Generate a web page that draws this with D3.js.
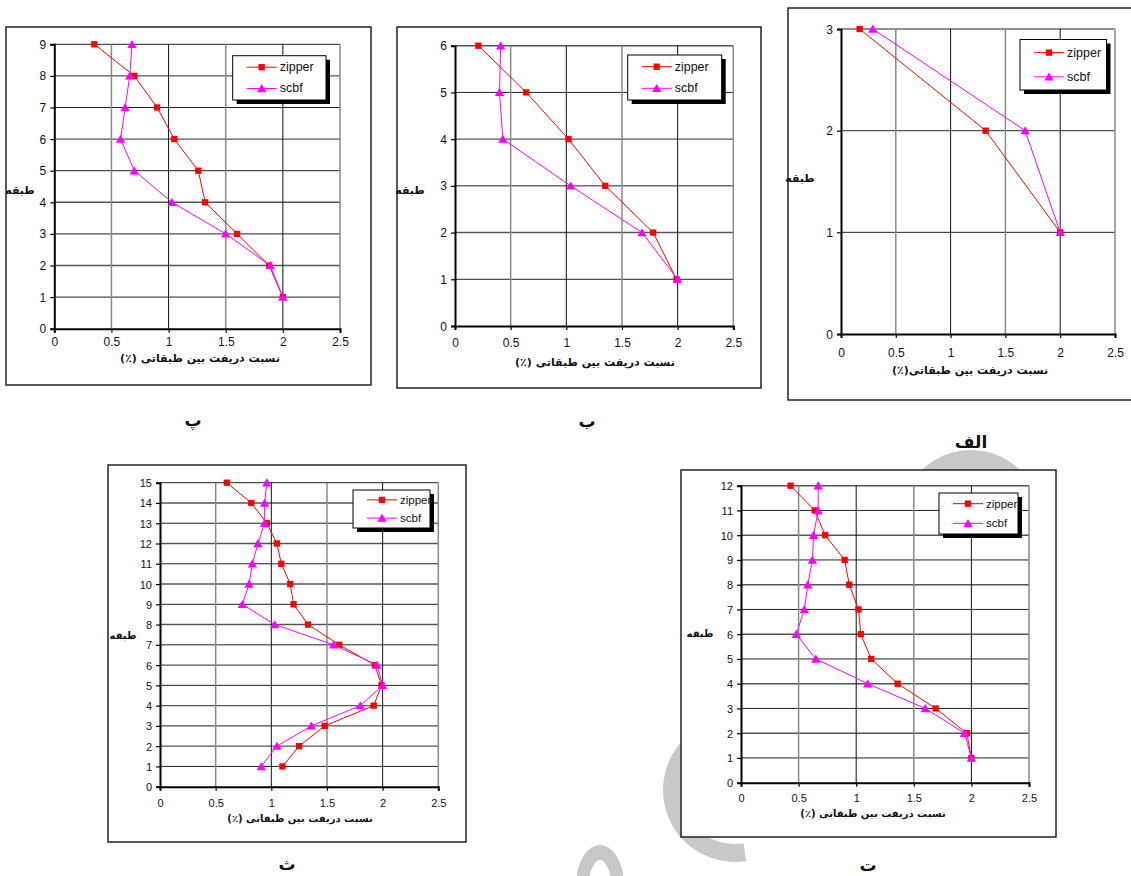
<!DOCTYPE html>
<html><head><meta charset="utf-8">
<script src="https://cdn.jsdelivr.net/npm/d3@7/dist/d3.min.js"></script>
<style>
html,body{margin:0;padding:0;background:#fff;}
svg{display:block;}
</style></head>
<body>
<svg id="c" width="1131" height="876"></svg>
<script>
// ---------- data ----------
const xTicks = [0, 0.5, 1, 1.5, 2, 2.5];
const seriesNames = ["zipper", "scbf"];
const seriesColors = ["#ff0000", "#ff00ff"];
const xTitle = "نسبت دریفت بین طبقاتی (٪)";
const xTitleAlef = "نسبت دریفت بین طبقاتی(٪)";
const yTitle = "طبقه";
const panelLabels = ["الف", "ب", "پ", "ت", "ث"];

// الف : 3 stories
const storiesAlef = [1, 2, 3];
const zipperAlef = [2.00, 1.32, 0.17];
const scbfAlef = [2.00, 1.68, 0.29];

// ب : 6 stories
const storiesBe = [1, 2, 3, 4, 5, 6];
const zipperBe = [1.99, 1.78, 1.35, 1.02, 0.64, 0.21];
const scbfBe = [2.00, 1.68, 1.04, 0.43, 0.40, 0.41];

// پ : 9 stories
const storiesPe = [1, 2, 3, 4, 5, 6, 7, 8, 9];
const zipperPe = [2.00, 1.88, 1.60, 1.32, 1.26, 1.05, 0.90, 0.70, 0.35];
const scbfPe = [2.00, 1.89, 1.50, 1.03, 0.70, 0.58, 0.62, 0.66, 0.68];

// ت : 12 stories
const storiesTe = [1, 2, 3, 4, 5, 6, 7, 8, 9, 10, 11, 12];
const zipperTe = [2.00, 1.96, 1.69, 1.36, 1.13, 1.04, 1.02, 0.94, 0.90, 0.73, 0.64, 0.43];
const scbfTe = [2.00, 1.94, 1.60, 1.10, 0.65, 0.48, 0.55, 0.58, 0.62, 0.63, 0.67, 0.67];

// ث : 15 stories
const storiesSe = [1, 2, 3, 4, 5, 6, 7, 8, 9, 10, 11, 12, 13, 14, 15];
const zipperSe = [1.10, 1.25, 1.48, 1.92, 1.99, 1.93, 1.61, 1.33, 1.20, 1.17, 1.09, 1.05, 0.96, 0.82, 0.60];
const scbfSe = [0.91, 1.05, 1.36, 1.80, 2.00, 1.95, 1.56, 1.03, 0.74, 0.80, 0.83, 0.88, 0.94, 0.94, 0.96];

// ---------- layout ----------
const panels = [
  { label: panelLabels[0], stories: storiesAlef, series: [zipperAlef, scbfAlef], title: xTitleAlef,
    frame: [788, 8, 1140, 400], plot: [841, 29, 1115, 334], legend: [1020, 39.5, 1106.5, 90],
    xlabY: 353, titleX: 970, titleY: 370, yTitlePos: [800, 178], labelPos: [971, 442], fs: 12 },
  { label: panelLabels[1], stories: storiesBe, series: [zipperBe, scbfBe], title: xTitle,
    frame: [397, 27, 761, 388], plot: [455, 45.7, 733.3, 326], legend: [627.7, 55, 721.7, 100],
    xlabY: 343, titleX: 595, titleY: 362, yTitlePos: [410, 190], labelPos: [587, 421], fs: 12 },
  { label: panelLabels[2], stories: storiesPe, series: [zipperPe, scbfPe], title: xTitle,
    frame: [6, 27, 371, 385], plot: [54.3, 44.3, 340, 328.7], legend: [232.7, 55.7, 326, 100],
    xlabY: 342, titleX: 200, titleY: 358, yTitlePos: [20, 190], labelPos: [193, 420], fs: 12 },
  { label: panelLabels[3], stories: storiesTe, series: [zipperTe, scbfTe], title: xTitle,
    frame: [681, 470, 1056, 837], plot: [741, 485.7, 1029, 782.7], legend: [939, 493, 1018, 534],
    xlabY: 798, titleX: 873, titleY: 813, yTitlePos: [700, 633], labelPos: [868, 865], fs: 11 },
  { label: panelLabels[4], stories: storiesSe, series: [zipperSe, scbfSe], title: xTitle,
    frame: [108, 465, 466, 842], plot: [160, 482.7, 438.3, 786.7], legend: [353, 490, 430, 528],
    xlabY: 803, titleX: 300, titleY: 818, yTitlePos: [123, 635], labelPos: [287, 864], fs: 11 }
];

const svg = d3.select("#c");

// ---------- faint watermark (background decoration) ----------
const wm = svg.append("g").attr("fill", "#c8c8c8");
wm.append("path").attr("transform", "translate(971,520)")
  .attr("d", d3.arc()({ innerRadius: 50, outerRadius: 70, startAngle: -Math.PI * 0.35, endAngle: Math.PI * 0.35 }));
wm.append("path").attr("transform", "translate(735,790)")
  .attr("d", d3.arc()({ innerRadius: 54, outerRadius: 72, startAngle: Math.PI * 0.95, endAngle: Math.PI * 1.9 }));
wm.append("ellipse").attr("cx", 600).attr("cy", 885).attr("rx", 24).attr("ry", 40);
wm.append("ellipse").attr("cx", 600).attr("cy", 892).attr("rx", 12).attr("ry", 32).attr("fill", "#fff");

const symSquare = d3.symbol(d3.symbolSquare, 40)();
const symTri = d3.symbol(d3.symbolTriangle, 38)();
const syms = [symSquare, symTri];

panels.forEach(p => {
  const g = svg.append("g");
  const [fx0, fy0, fx1, fy1] = p.frame;
  g.append("rect").attr("x", fx0).attr("y", fy0).attr("width", fx1 - fx0).attr("height", fy1 - fy0)
    .attr("fill", "#fff").attr("stroke", "#222").attr("stroke-width", 1.5);

  const [px0, py0, px1, py1] = p.plot;
  const n = p.stories.length;
  const x = d3.scaleLinear().domain([0, 2.5]).range([px0, px1]);
  const y = d3.scaleLinear().domain([0, n]).range([py1, py0]);
  const yTicks = d3.range(0, n + 1);

  // grid
  g.append("g").selectAll("line").data(yTicks.slice(1)).join("line")
    .attr("x1", px0).attr("x2", px1).attr("y1", d => y(d)).attr("y2", d => y(d))
    .attr("stroke", (d, i) => i % 2 ? "#555" : "#222").attr("stroke-width", (d, i) => i % 2 ? 1.4 : 1);
  g.append("g").selectAll("line").data(xTicks.slice(1)).join("line")
    .attr("x1", d => x(d)).attr("x2", d => x(d)).attr("y1", py0).attr("y2", py1)
    .attr("stroke", d => Number.isInteger(d) ? "#111" : "#8a8a8a")
    .attr("stroke-width", d => Number.isInteger(d) ? 1 : 1.5);

  // axes
  const ax = g.append("g").attr("transform", `translate(0,${py1})`)
    .call(d3.axisBottom(x).tickValues(xTicks).tickFormat(d3.format("~g")).tickSize(4).tickPadding(0));
  const ay = g.append("g").attr("transform", `translate(${px0},0)`)
    .call(d3.axisLeft(y).tickValues(yTicks).tickFormat(d3.format("d")).tickSize(4).tickPadding(4));
  [ax, ay].forEach(a => {
    a.select(".domain").attr("stroke", "#000").attr("stroke-width", 2);
    a.selectAll(".tick line").attr("stroke", "#000").attr("stroke-width", 1.2);
    a.selectAll(".tick text").attr("fill", "#111").attr("font-family", "Liberation Sans, Arial, sans-serif")
      .attr("font-size", p.fs);
  });
  ax.selectAll(".tick text").attr("y", null).attr("dy", null)
    .attr("y", p.xlabY - py1).attr("dominant-baseline", "central");
  ay.selectAll(".tick text").attr("dominant-baseline", "central").attr("dy", null);

  // series
  p.series.forEach((vals, si) => {
    const pts = vals.map((v, i) => ({ v, s: p.stories[i] }));
    g.append("path").datum(pts).attr("fill", "none").attr("stroke", seriesColors[si]).attr("stroke-width", 1)
      .attr("d", d3.line().x(d => x(d.v)).y(d => y(d.s)));
    g.append("g").selectAll("path").data(pts).join("path")
      .attr("d", syms[si]).attr("fill", seriesColors[si])
      .attr("transform", d => `translate(${x(d.v)},${y(d.s) + (si ? 1 : 0)})`);
  });

  // legend
  const [lx0, ly0, lx1, ly1] = p.legend;
  const lh = ly1 - ly0;
  g.append("rect").attr("x", lx0 + 4).attr("y", ly0 + 4).attr("width", lx1 - lx0).attr("height", lh).attr("fill", "#000");
  g.append("rect").attr("x", lx0).attr("y", ly0).attr("width", lx1 - lx0).attr("height", lh)
    .attr("fill", "#fff").attr("stroke", "#000").attr("stroke-width", 1);
  seriesNames.forEach((nm, si) => {
    const ey = ly0 + lh * (si ? 0.74 : 0.26);
    const l0 = lx0 + 14, l1 = lx0 + 44;
    g.append("line").attr("x1", l0).attr("x2", l1).attr("y1", ey).attr("y2", ey)
      .attr("stroke", seriesColors[si]).attr("stroke-width", 1);
    g.append("path").attr("d", syms[si]).attr("fill", seriesColors[si])
      .attr("transform", `translate(${(l0 + l1) / 2},${ey + (si ? 1 : 0)})`);
    g.append("text").attr("x", l1 + 3).attr("y", ey).attr("dominant-baseline", "central")
      .attr("font-family", "Liberation Sans, Arial, sans-serif").attr("font-size", p.fs + 0.5).attr("fill", "#111")
      .text(nm);
  });

  // titles
  g.append("text").attr("x", p.titleX).attr("y", p.titleY).attr("text-anchor", "middle")
    .attr("dominant-baseline", "central").attr("direction", "rtl")
    .attr("font-family", "DejaVu Sans, Noto Sans, sans-serif").attr("font-weight", "bold")
    .attr("font-size", p.fs - 1).attr("fill", "#111").text(p.title);
  g.append("text").attr("x", p.yTitlePos[0]).attr("y", p.yTitlePos[1]).attr("text-anchor", "middle")
    .attr("dominant-baseline", "central").attr("direction", "rtl")
    .attr("font-family", "DejaVu Sans, Noto Sans, sans-serif").attr("font-weight", "bold")
    .attr("font-size", p.fs - 1).attr("fill", "#111").text(yTitle);

  // panel label
  svg.append("text").attr("x", p.labelPos[0]).attr("y", p.labelPos[1]).attr("text-anchor", "middle")
    .attr("dominant-baseline", "central").attr("direction", "rtl")
    .attr("font-family", "DejaVu Sans, Noto Sans, sans-serif").attr("font-weight", "bold")
    .attr("font-size", 17).attr("fill", "#111").text(p.label);
});
</script>
</body></html>
